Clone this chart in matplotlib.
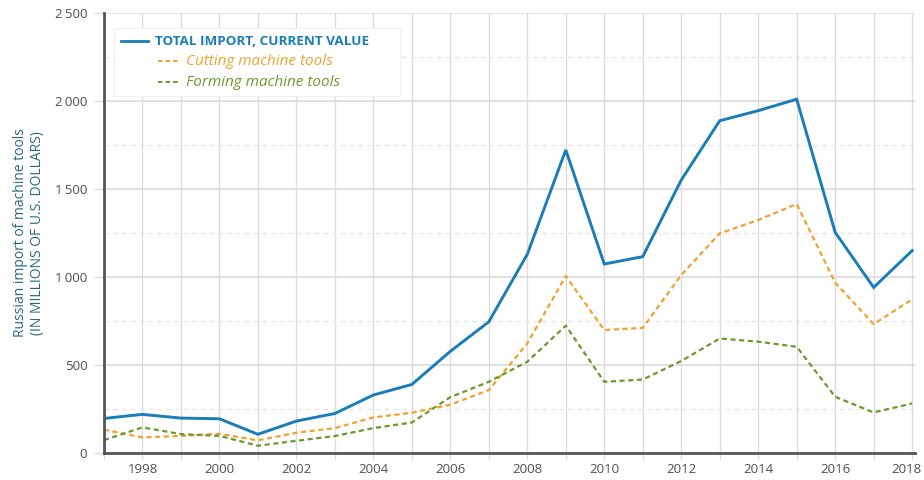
import matplotlib
matplotlib.use("Agg")
import matplotlib.pyplot as plt
import matplotlib.transforms as mtransforms
from matplotlib.lines import Line2D
from matplotlib.offsetbox import DrawingArea, TextArea, HPacker, VPacker, AnchoredOffsetbox

plt.rcParams['font.family'] = ['Open Sans', 'DejaVu Sans']

years = list(range(1997, 2019))
total = [197, 220, 199, 195, 107, 182, 225, 330, 390, 578, 746, 1129, 1722, 1074, 1116,
         1551, 1888, 1945, 2010, 1254, 941, 1150]
cutting = [133, 89, 98, 110, 72, 116, 142, 203, 229, 275, 358, 623, 1006, 699, 712,
           1011, 1248, 1324, 1415, 968, 733, 873]
forming = [74, 146, 108, 98, 42, 70, 97, 142, 174, 318, 405, 519, 724, 405, 418,
           523, 651, 633, 604, 320, 231, 282]

series_labels = ["TOTAL IMPORT, CURRENT VALUE", "Cutting machine tools", "Forming machine tools"]
ytick_values = [0, 500, 1000, 1500, 2000, 2500]
ytick_labels = ["0", "500", "1\u2009000", "1\u2009500", "2\u2009000", "2\u2009500"]
xtick_values = list(range(1998, 2019, 2))
xtick_labels = [str(y) for y in xtick_values]
ylabel_text = "Russian import of machine tools\n(IN MILLIONS OF U.S. DOLLARS)"

BLUE = "#1a7db8"
ORANGE = "#f5a02e"
GREEN = "#6a9a2c"
GRID = "#dcdcdc"
AXIS = "#555555"

fig = plt.figure(figsize=(9.24, 4.8), dpi=100)
ax = fig.add_axes([0.1125, 0.056, 0.878, 0.917])

ax.plot(years, total, color=BLUE, lw=2.1, zorder=5, solid_joinstyle='miter')
ax.plot(years, cutting, color=ORANGE, lw=1.6, linestyle=(0, (2.3, 1.6)), zorder=4)
ax.plot(years, forming, color=GREEN, lw=1.6, linestyle=(0, (2.3, 1.6)), zorder=4)

ax.set_xlim(1997, 2018.08)
ax.set_ylim(0, 2500)

ax.set_yticks(ytick_values)
ax.set_yticklabels(ytick_labels)
ax.set_yticks([v + 250 for v in ytick_values[:-1]], minor=True)
ax.set_xticks(xtick_values)
ax.set_xticklabels(xtick_labels)
ax.set_xticks([y for y in years if y not in xtick_values], minor=True)

ax.grid(axis='x', which='both', color=GRID, lw=1.0, zorder=0)
ax.grid(axis='y', which='major', color=GRID, lw=1.2, zorder=0)
ax.grid(axis='y', which='minor', color="#e6e6e6", lw=0.9, linestyle=(0, (4, 3)), zorder=0)
ax.set_axisbelow(True)

ax.tick_params(axis='y', which='major', length=7, width=1, color=GRID, labelsize=9.5,
               labelcolor="#505050", pad=5)
ax.tick_params(axis='y', which='minor', length=0)
ax.tick_params(axis='x', which='both', length=5, width=1, color=GRID, labelsize=9.5,
               labelcolor="#505050", pad=2)

# nudge the last x label left so it stays inside the figure, as in the original
last = ax.get_xticklabels()[-1]
last.set_transform(last.get_transform() + mtransforms.ScaledTranslation(-4 / 72, 0, fig.dpi_scale_trans))

for s in ['top', 'right']:
    ax.spines[s].set_visible(False)
for s in ['left', 'bottom']:
    ax.spines[s].set_color(AXIS)
    ax.spines[s].set_linewidth(2)
    ax.spines[s].set_zorder(6)

ax.set_ylabel(ylabel_text, color="#2a6685", fontsize=10, labelpad=7, linespacing=1.15)

# legend built from offset boxes so the dashed entries can be indented
def legend_row(color, ls, lw, x0, x1, width, label, weight, style, size, extra=0):
    da = DrawingArea(width, 8, 0, 0)
    da.add_artist(Line2D([x0, x1], [4, 4], color=color, lw=lw, linestyle=ls))
    ta = TextArea(label, textprops=dict(color=color, fontsize=size, fontweight=weight,
                                        fontstyle=style))
    kids = [da, ta]
    if extra:
        kids.append(DrawingArea(extra, 8, 0, 0))
    return HPacker(children=kids, align="center", pad=0, sep=5)

rows = [
    legend_row(BLUE, '-', 2.0, 0, 20, 20, series_labels[0], 'bold', 'normal', 9.7, extra=12),
    legend_row(ORANGE, (0, (2.3, 1.6)), 1.4, 27, 42, 42, series_labels[1], 'normal', 'italic', 11),
    legend_row(GREEN, (0, (2.3, 1.6)), 1.4, 27, 42, 42, series_labels[2], 'normal', 'italic', 11),
]
box = VPacker(children=rows, align="left", pad=0, sep=4.2)
anch = AnchoredOffsetbox(loc='upper left', child=box, pad=0.5, borderpad=0,
                         frameon=True, bbox_to_anchor=(0.012, 0.966),
                         bbox_transform=ax.transAxes)
anch.patch.set_facecolor("white")
anch.patch.set_edgecolor("#f0f0f0")
anch.patch.set_linewidth(0.8)
anch.patch.set_boxstyle("square,pad=0")
anch.set_zorder(7)
ax.add_artist(anch)

fig.savefig("out.png", dpi=100)
